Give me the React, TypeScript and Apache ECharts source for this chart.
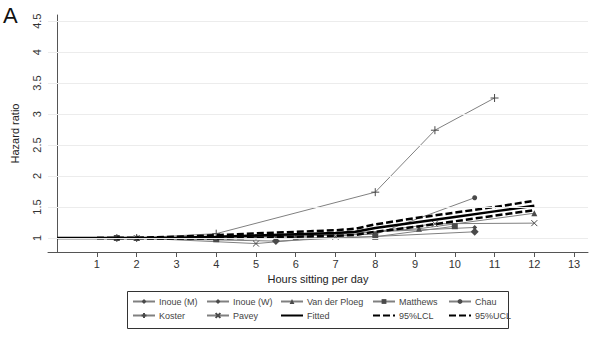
import React, { useEffect, useRef } from "react";
import * as echarts from "echarts";

// ---- data ----
const xTicks = [1, 2, 3, 4, 5, 6, 7, 8, 9, 10, 11, 12, 13];
const yTicks = [1, 1.5, 2, 2.5, 3, 3.5, 4, 4.5];

const inoueM = [[1.5, 1], [5.5, 1.03], [10.5, 1.17]];
const inoueW = [[1.5, 1], [5.5, 0.95], [10.5, 1.1]];
const vanDerPloeg = [[2, 1], [6, 1.02], [9.1, 1.15], [12, 1.4]];
const matthews = [[1.5, 1], [4, 0.98], [8, 1.02], [10, 1.19]];
const chau = [[2, 1], [5, 1.02], [8, 1.06], [10.5, 1.65]];
const koster = [[2, 1], [4, 1.07], [8, 1.74], [9.5, 2.74], [11, 3.26]];
const pavey = [[2, 1], [5, 0.91], [7, 1.02], [9.5, 1.23], [12, 1.24]];

const fitHours = [0, 1, 2, 3, 4, 5, 6, 7, 7.5, 8, 9, 10, 11, 12];
const fitted = [1, 1, 1, 1.005, 1.02, 1.04, 1.06, 1.08, 1.1, 1.16, 1.25, 1.34, 1.43, 1.52];
const ciHours = [1, 2, 3, 4, 5, 6, 7, 7.5, 8, 9, 10, 11, 12];
const lcl = [1, 0.995, 0.99, 0.995, 1.005, 1.02, 1.035, 1.05, 1.1, 1.18, 1.27, 1.36, 1.45];
const ucl = [1, 1.005, 1.02, 1.045, 1.075, 1.1, 1.125, 1.15, 1.22, 1.32, 1.41, 1.5, 1.6];

const FONT = "Liberation Sans";
const PLUS = "path://M0,-5 L0,5 M-5,0 L5,0";
const CROSS = "path://M-4,-4 L4,4 M-4,4 L4,-4";

function studySeries(name: string, data: number[][], symbol: string, size: number) {
  return {
    name,
    type: "line",
    data,
    symbol,
    symbolSize: size,
    showSymbol: true,
    lineStyle: { color: "#808080", width: 1 },
    itemStyle: { color: "#4a4a4a", borderColor: "#4a4a4a", borderWidth: symbol.startsWith("path") ? 1 : 0 },
    z: 2,
  };
}

const lineOnly = (name: string) => ({ name, itemStyle: { opacity: 0 } });

export default function App() {
  const ref = useRef<HTMLDivElement>(null);
  useEffect(() => {
    const chart = echarts.init(ref.current!, null, { renderer: "svg" });
    const legendBase = {
      orient: "vertical",
      top: 297,
      padding: 0,
      itemGap: 5,
      itemWidth: 22,
      itemHeight: 6,
      textStyle: { fontFamily: FONT, fontSize: 9, color: "#444", padding: [0, 0, 0, -1] },
    };
    chart.setOption({
      animation: false,
      textStyle: { fontFamily: FONT },
      grid: { left: 48, right: 12, top: 15, bottom: 94 },
      xAxis: {
        type: "value",
        min: -0.23,
        max: 13.35,
        name: "Hours sitting per day",
        nameLocation: "middle",
        nameGap: 18,
        nameTextStyle: { fontFamily: FONT, fontSize: 11, color: "#222" },
        axisLine: { show: true, lineStyle: { color: "#555", width: 1 } },
        axisTick: { show: true, length: 5, customValues: xTicks, lineStyle: { color: "#555" } },
        axisLabel: { customValues: xTicks, fontSize: 11, color: "#333", margin: 6 },
        splitLine: { show: false },
      },
      yAxis: {
        type: "value",
        min: 0.774,
        max: 4.6,
        name: "Hazard ratio",
        nameLocation: "middle",
        nameGap: 28,
        nameTextStyle: { fontFamily: FONT, fontSize: 11, color: "#222" },
        axisLine: { show: true, lineStyle: { color: "#555", width: 1 } },
        axisTick: { show: true, length: 5, customValues: yTicks, lineStyle: { color: "#555" } },
        axisLabel: { customValues: yTicks, fontSize: 11, color: "#333", rotate: 90, margin: 6 },
        splitLine: { show: false },
      },
      legend: [
        { ...legendBase, left: 132, data: ["Inoue (M)", "Koster"] },
        { ...legendBase, left: 206, data: ["Inoue (W)", "Pavey"] },
        { ...legendBase, left: 280, data: ["Van der Ploeg", lineOnly("Fitted")] },
        { ...legendBase, left: 372, data: ["Matthews", lineOnly("95%LCL")] },
        { ...legendBase, left: 448, data: ["Chau", lineOnly("95%UCL")] },
      ],
      graphic: [
        {
          type: "rect",
          shape: { x: 127.5, y: 291.5, width: 381, height: 37 },
          style: { fill: "none", stroke: "#333", lineWidth: 1 },
        },
        {
          type: "text",
          left: 3,
          top: 4,
          style: { text: "A", font: `22px "${FONT}"`, fill: "#111" },
        },
      ],
      series: [
        {
          name: "grid",
          type: "line",
          data: [],
          silent: true,
          markLine: {
            silent: true,
            symbol: "none",
            label: { show: false },
            lineStyle: { color: "#ececec", width: 1, type: "solid" },
            data: yTicks.map((v) => ({ yAxis: v })),
          },
          z: 0,
        },
        studySeries("Inoue (M)", inoueM, "diamond", 5),
        studySeries("Inoue (W)", inoueW, "diamond", 8),
        studySeries("Van der Ploeg", vanDerPloeg, "triangle", 6),
        studySeries("Matthews", matthews, "rect", 6),
        studySeries("Chau", chau, "circle", 5),
        studySeries("Koster", koster, PLUS, 8),
        studySeries("Pavey", pavey, CROSS, 6),
        {
          name: "Fitted",
          type: "line",
          data: fitHours.map((h, i) => [h, fitted[i]]),
          showSymbol: false,
          symbol: "none",
          lineStyle: { color: "#000", width: 2.5 },
          itemStyle: { color: "#000" },
          z: 3,
        },
        {
          name: "95%LCL",
          type: "line",
          data: ciHours.map((h, i) => [h, lcl[i]]),
          showSymbol: false,
          symbol: "none",
          lineStyle: { color: "#000", width: 2.5, type: [7, 3] },
          itemStyle: { color: "#000" },
          z: 3,
        },
        {
          name: "95%UCL",
          type: "line",
          data: ciHours.map((h, i) => [h, ucl[i]]),
          showSymbol: false,
          symbol: "none",
          lineStyle: { color: "#000", width: 2.5, type: [7, 3] },
          itemStyle: { color: "#000" },
          z: 3,
        },
      ],
    });
    return () => chart.dispose();
  }, []);
  return <div ref={ref} style={{ width: 600, height: 346, position: "absolute", left: 0, top: 0, background: "#fff" }} />;
}
